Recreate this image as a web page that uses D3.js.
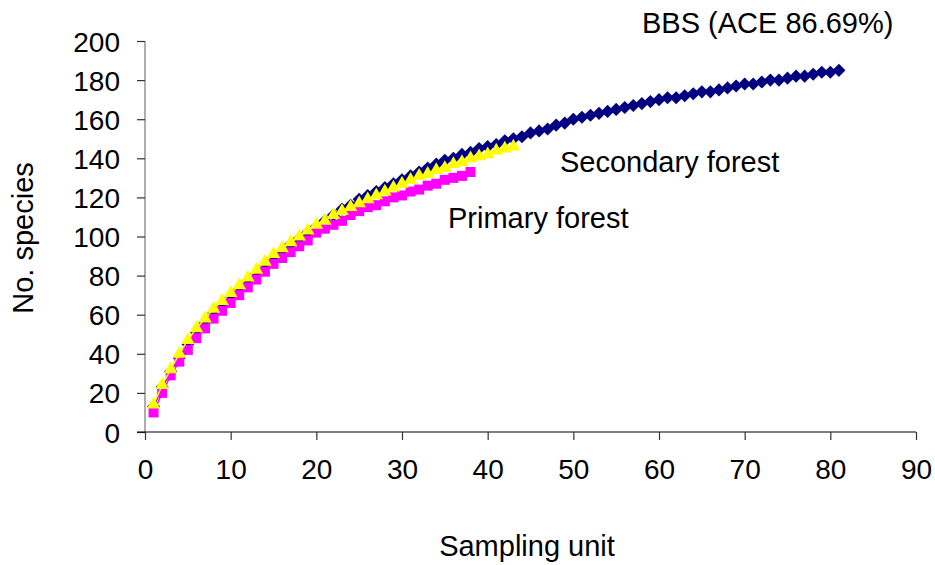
<!DOCTYPE html>
<html>
<head>
<meta charset="utf-8">
<script src="https://cdn.jsdelivr.net/npm/d3@7"></script>
<style>
  body { margin: 0; background: #fff; }
  text { font-family: "Liberation Sans", Arial, sans-serif; fill: #000; }
</style>
</head>
<body>
<svg id="chart" width="935" height="565"></svg>
<script>
// species accumulation values
const secondary = [13,23,31,38,45,51,56,61,65,69,73,77,81,85,89,92,96,99,102,105,
  108,111,114,116,119,121,123,125,127,129,131,133,135,137,139,140,142,143,145,146,
  147,149,150,151,153,154,155,157,158,160,161,162,163,164,165,166,167,168,169,170,
  171,171,172,173,174,174,175,176,177,178,178,179,180,180,181,182,182,183,184,184,185];
const primary = [10,20,29,36,42,48,53,58,62,66,70,74,78,82,86,89,92,95,98,102,
  104,106,108,111,113,115,116,118,120,121,123,124,126,127,129,130,131,133];
const bbs = [14,24,32,40,47,53,58,63,67,71,75,79,83,87,91,94,97,100,103,106,
  108,111,113,115,117,119,121,123,125,127,129,131,132,134,135,137,138,140,141,142,
  144,145,146];
const xTicks = [0,10,20,30,40,50,60,70,80,90];
const yTicks = [0,20,40,60,80,100,120,140,160,180,200];

const fs = "29px", tfs = "28px";
const svg = d3.select("#chart");
const x = d3.scaleLinear().domain([0, 90]).range([145, 916]);
const y = d3.scaleLinear().domain([0, 200]).range([432, 41]);

// axes
const yAxis = svg.append("g")
  .attr("transform", "translate(145,0)")
  .call(d3.axisLeft(y).tickValues(yTicks).tickSize(8).tickPadding(17));
yAxis.select(".domain").attr("stroke", "#777").attr("d", "M0,41V432");
yAxis.selectAll(".tick line").attr("stroke", "#333");
yAxis.selectAll("text").style("font-size", tfs).attr("dy", "0.36em");

const xAxis = svg.append("g")
  .attr("transform", "translate(0,432)")
  .call(d3.axisBottom(x).tickValues(xTicks).tickSize(8).tickPadding(19));
xAxis.select(".domain").attr("stroke", "#000").attr("d", "M137,0H916");
xAxis.selectAll(".tick line").attr("stroke", "#333");
xAxis.selectAll("text").style("font-size", tfs);

svg.selectAll(".domain, .tick line").attr("stroke-width", 1.2);

// series
const diamond = d3.symbolDiamond2 || d3.symbolDiamond;
function draw(vals, color, shape, size) {
  const pts = vals.map((v, i) => [i + 1, v]);
  svg.append("path")
    .datum(pts)
    .attr("fill", "none")
    .attr("stroke", color)
    .attr("stroke-width", 1.5)
    .attr("d", d3.line().x(d => x(d[0])).y(d => y(d[1])));
  svg.append("g").selectAll("path")
    .data(pts)
    .join("path")
      .attr("transform", d => `translate(${x(d[0])},${y(d[1])})`)
      .attr("d", d3.symbol().type(shape).size(size))
      .attr("fill", color);
}

draw(secondary, "#000080", diamond, 110);
draw(primary, "#ff00ff", d3.symbolSquare, 100);
draw(bbs, "#ffff00", d3.symbolTriangle, 80);

// labels
svg.append("text").attr("x", 642).attr("y", 33).style("font-size", fs)
  .text("BBS (ACE 86.69%)");
svg.append("text").attr("x", 560).attr("y", 172).style("font-size", fs)
  .text("Secondary forest");
svg.append("text").attr("x", 448).attr("y", 228).style("font-size", fs)
  .text("Primary forest");

svg.append("text").attr("x", 527).attr("y", 556).attr("text-anchor", "middle")
  .style("font-size", fs).text("Sampling unit");
svg.append("text")
  .attr("transform", "translate(33,238) rotate(-90)")
  .attr("text-anchor", "middle").style("font-size", fs)
  .text("No. species");
</script>
</body>
</html>
